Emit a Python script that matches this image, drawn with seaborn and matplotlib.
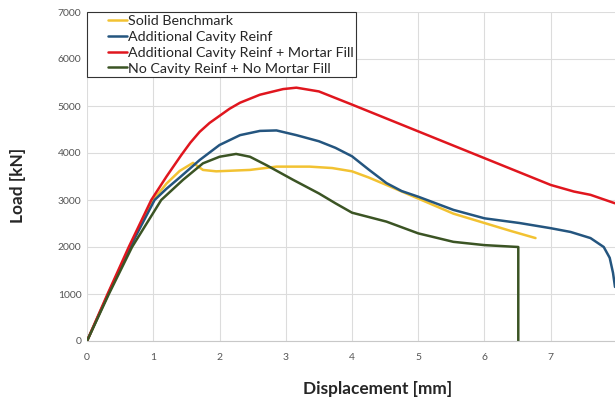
import pandas as pd
import numpy as np
import matplotlib
matplotlib.use('Agg')
import matplotlib.pyplot as plt
from matplotlib.lines import Line2D
from matplotlib.legend_handler import HandlerLine2D
import seaborn as sns

# curves (displacement mm, load kN)
solid_x = [0, 0.32, 0.65, 1.0, 1.2, 1.4, 1.6, 1.75, 1.95, 2.46, 2.86, 3.36, 3.7, 4.0, 4.25, 4.52,
           5.0, 5.53, 6.0, 6.4, 6.77]
solid_y = [0, 1000, 2000, 3000, 3350, 3620, 3790, 3640, 3610, 3640, 3710, 3710, 3680, 3610, 3480, 3320,
           3030, 2710, 2510, 2340, 2190]

cav_x = [0, 0.32, 0.65, 1.02, 1.2, 1.4, 1.7, 2.0, 2.31, 2.61, 2.86, 3.16, 3.5, 3.75, 4.0, 4.25,
         4.52, 4.75, 5.0, 5.53, 6.0, 6.53, 7.0, 7.3, 7.6, 7.8, 7.89, 7.94, 7.97]
cav_y = [0, 1000, 2000, 3000, 3240, 3480, 3850, 4170, 4380, 4470, 4480, 4380, 4250, 4110, 3930, 3650,
         3360, 3190, 3070, 2790, 2610, 2510, 2400, 2320, 2190, 2000, 1770, 1450, 1150]

mortar_x = [0, 0.31, 0.63, 0.97, 1.2, 1.42, 1.56, 1.7, 1.85, 2.0, 2.15, 2.31, 2.61, 2.96, 3.16, 3.5, 4.0,
            5.0, 6.0, 7.0, 7.35, 7.6, 7.97]
mortar_y = [0, 1000, 2000, 3000, 3500, 3950, 4220, 4450, 4640, 4790, 4940, 5070, 5240, 5360, 5390, 5310, 5030,
            4460, 3890, 3320, 3180, 3110, 2930]

nocav_x = [0, 0.33, 0.68, 1.12, 1.45, 1.75, 2.0, 2.25, 2.46, 2.71, 3.11, 3.5, 3.75, 4.0, 4.52, 5.0,
           5.53, 6.0, 6.51, 6.51]
nocav_y = [0, 1000, 2000, 3000, 3430, 3780, 3920, 3980, 3920, 3740, 3430, 3140, 2930, 2730, 2540, 2290,
           2110, 2040, 2000, 0]

names = ['Solid Benchmark', 'Additional Cavity Reinf',
         'Additional Cavity Reinf + Mortar Fill', 'No Cavity Reinf + No Mortar Fill']
colors = ['#F2C232', '#24557F', '#E0161E', '#3B5424']

frames = []
for n, xs, ys in zip(names, [solid_x, cav_x, mortar_x, nocav_x], [solid_y, cav_y, mortar_y, nocav_y]):
    frames.append(pd.DataFrame({'disp': xs, 'load': ys, 'series': n}))
data = pd.concat(frames, ignore_index=True)

sns.set_style('white')
plt.rcParams['font.family'] = ['Lato', 'DejaVu Sans']

fig = plt.figure(figsize=(6.15, 4.0), dpi=100)
ax = fig.add_axes([0.1415, 0.1475, 0.8585, 0.8225])

sns.lineplot(data=data, x='disp', y='load', hue='series', hue_order=names,
             palette=colors, sort=False, estimator=None, linewidth=1.8, ax=ax)

ax.set_xlim(0, 7.97)
ax.set_ylim(0, 7000)
ax.set_xticks(range(0, 8))
ax.set_yticks(range(0, 7001, 1000))
ax.grid(True, color='#dcdcdc', linewidth=0.8)
for s in ['top', 'right', 'left']:
    ax.spines[s].set_visible(False)
ax.spines['bottom'].set_color('#c8c8c8')
ax.tick_params(axis='both', labelsize=7.5, colors='#555555', length=0)
ax.tick_params(axis='x', pad=9)
ax.tick_params(axis='y', pad=4)

# the original chart was wider than the crop, so the titles sit off-centre
ax.set_xlabel('Displacement [mm]', fontsize=12.4, fontweight='bold')
ax.set_ylabel('Load [kN]', fontsize=12.4, fontweight='bold')
ax.xaxis.set_label_coords(0.551, -0.122)
ax.yaxis.set_label_coords(-0.115, 0.474)


# legend handles sit in the right half of the handle box, like the Excel original
class ShiftedLine(HandlerLine2D):
    def get_xdata(self, legend, xdescent, ydescent, width, height, fontsize):
        x = np.array([-xdescent + 0.5 * width, -xdescent + width])
        return x, x


handles, labels = ax.get_legend_handles_labels()
leg = ax.legend(handles, labels, loc='upper left', bbox_to_anchor=(0, 1), frameon=True,
                fancybox=False, fontsize=10.3, handlelength=2.6, handletextpad=0.05,
                borderaxespad=0, labelspacing=0.27, borderpad=0.2,
                handler_map={Line2D: ShiftedLine()})
leg.get_frame().set_edgecolor('#333333')
leg.get_frame().set_linewidth(0.8)
leg.get_frame().set_alpha(1)

fig.savefig('out.png', dpi=100)
